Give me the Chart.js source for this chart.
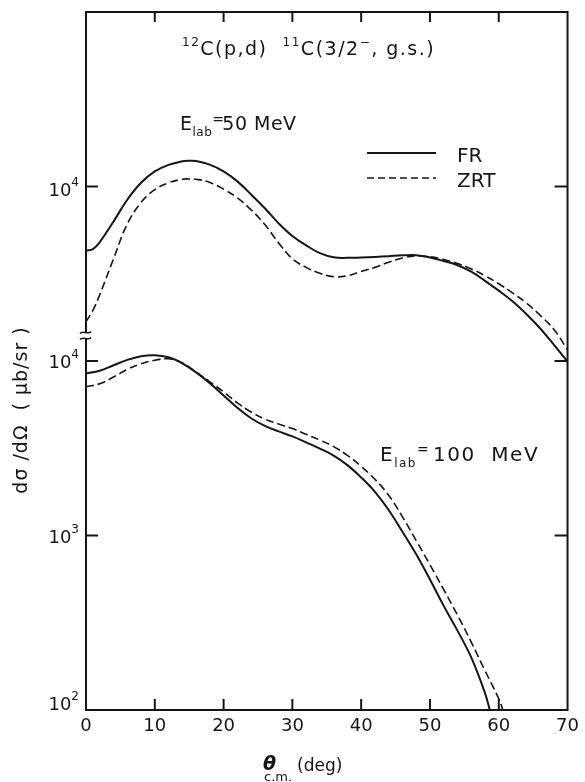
<!DOCTYPE html>
<html>
<head>
<meta charset="utf-8">
<script src="https://cdn.jsdelivr.net/npm/chart.js@4.4.0/dist/chart.umd.min.js"></script>
<style>
  body { margin: 0; background: #fff; }
  canvas { display: block; }
</style>
</head>
<body>
<canvas id="xsec" width="585" height="782"></canvas>
<script>
// 12C(p,d)11C angular distributions, mub/sr vs theta_cm (deg)
// E_lab = 50 MeV (plotted against the upper, shifted scale)
const angles50 = [0, 1, 2, 4, 6, 8, 10, 12, 14, 15, 16, 18, 20, 22, 24, 26, 28, 30, 32, 34, 36, 38, 40, 42, 44, 46, 48, 50, 52, 54, 56, 58, 60, 62, 64, 66, 68, 70];
const fr50 = [4290, 4380, 4800, 6300, 8400, 10500, 12200, 13300, 13950, 14050, 14000, 13350, 12200, 10700, 9000, 7500, 6150, 5200, 4600, 4150, 3930, 3900, 3920, 3950, 3990, 4030, 4040, 3920, 3740, 3540, 3250, 2880, 2530, 2200, 1860, 1540, 1240, 990];
const zrt50 = [1680, 1950, 2400, 3850, 6100, 8100, 9600, 10500, 11000, 11050, 11000, 10550, 9650, 8600, 7350, 6050, 4750, 3850, 3440, 3180, 3040, 3080, 3260, 3440, 3680, 3890, 4000, 3960, 3820, 3620, 3370, 3080, 2770, 2460, 2150, 1830, 1520, 1160];

// E_lab = 100 MeV
const anglesFR100 = [0, 2, 4, 6, 8, 10, 12, 14, 16, 18, 20, 22, 24, 26, 28, 30, 32, 34, 36, 38, 40, 42, 44, 46, 48, 50, 52, 54, 56, 58, 58.7];
const fr100 = [8490, 8800, 9450, 10150, 10650, 10800, 10500, 9700, 8600, 7450, 6350, 5400, 4700, 4250, 3950, 3700, 3420, 3150, 2870, 2530, 2150, 1780, 1400, 1050, 780, 560, 395, 285, 200, 125, 100];
const anglesZRT100 = [0, 2, 4, 6, 8, 10, 12, 14, 16, 18, 20, 22, 24, 26, 28, 30, 32, 34, 36, 38, 40, 42, 44, 46, 48, 50, 52, 54, 56, 58, 60, 60.6];
const zrt100 = [7130, 7400, 8100, 8950, 9650, 10100, 10300, 9750, 8650, 7600, 6650, 5750, 5100, 4650, 4350, 4100, 3800, 3520, 3230, 2880, 2490, 2100, 1700, 1280, 935, 680, 490, 350, 245, 168, 116, 100];

const xTicks = [0, 10, 20, 30, 40, 50, 60, 70];
const yTicksLow = [100, 1000, 10000];
const yTicksTop = [10000];

const FONT = '"DejaVu Sans", sans-serif';
const INK = '#151515';

function pts(xs, ys) {
  return xs.map((x, i) => ({ x: x, y: ys[i] }));
}

// text runs with super/subscripts, left aligned at x on baseline y
function rich(ctx, x, y, parts, size) {
  parts.forEach(([txt, kind]) => {
    let s = size, dy = 0;
    if (kind === 'sup') { s = Math.round(size * 0.62); dy = -size * 0.45; }
    if (kind === 'sub') { s = Math.round(size * 0.62); dy = size * 0.32; }
    ctx.font = s + 'px ' + FONT;
    ctx.fillText(txt, x, y + dy);
    x += ctx.measureText(txt).width;
  });
  return x;
}

function seg(ctx, x1, y1, x2, y2) {
  ctx.beginPath();
  ctx.moveTo(x1, y1);
  ctx.lineTo(x2, y2);
  ctx.stroke();
}

const frame = {
  id: 'frame',
  afterDraw(chart) {
    const { ctx, chartArea: a, scales } = chart;
    const sx = scales.x, lo = scales.y, hi = scales.yTop;
    ctx.save();
    ctx.strokeStyle = INK;
    ctx.fillStyle = INK;
    ctx.lineWidth = 2;
    ctx.textBaseline = 'alphabetic';

    // frame, left side broken between the two scales
    const brk = 335.5;
    ctx.beginPath();
    ctx.moveTo(a.left, brk - 3);
    ctx.lineTo(a.left, a.top);
    ctx.lineTo(a.right, a.top);
    ctx.lineTo(a.right, a.bottom);
    ctx.lineTo(a.left, a.bottom);
    ctx.lineTo(a.left, brk + 3);
    ctx.stroke();
    ctx.lineWidth = 1.5;
    [brk - 3, brk + 3].forEach(y => {
      ctx.beginPath();
      ctx.moveTo(a.left - 6, y + 1);
      ctx.bezierCurveTo(a.left - 3, y - 3, a.left + 2, y + 3, a.left + 5, y - 1);
      ctx.stroke();
    });

    // inward ticks
    ctx.lineWidth = 2;
    xTicks.slice(1, -1).forEach(v => {
      const px = sx.getPixelForValue(v);
      seg(ctx, px, a.top, px, a.top + 10);
      seg(ctx, px, a.bottom, px, a.bottom - 11);
    });
    const yPix = yTicksTop.map(v => hi.getPixelForValue(v))
      .concat(yTicksLow.filter(v => v > lo.min).map(v => lo.getPixelForValue(v)));
    yPix.forEach(py => {
      seg(ctx, a.left, py, a.left + 12, py);
      seg(ctx, a.right, py, a.right - 13, py);
    });

    // y tick labels 10^n
    const label = (v, base) => {
      const e = String(Math.round(Math.log10(v)));
      ctx.font = '18px ' + FONT;
      const w10 = ctx.measureText('10').width;
      ctx.font = '12px ' + FONT;
      const we = ctx.measureText(e).width;
      const x0 = 79 - w10 - we;
      ctx.font = '18px ' + FONT;
      ctx.fillText('10', x0, base);
      ctx.font = '12px ' + FONT;
      ctx.fillText(e, x0 + w10, base - 10);
    };
    yTicksTop.forEach(v => label(v, hi.getPixelForValue(v) + 9));
    yTicksLow.forEach(v => {
      const py = lo.getPixelForValue(v);
      label(v, v === lo.min ? py : py + 7);
    });

    // reaction heading
    ctx.letterSpacing = '1.5px';
    rich(ctx, 182, 55, [['12', 'sup'], ['C(p,d)  ', ''], ['11', 'sup'],
      ['C(3/2', ''], ['\u2212', 'sup'], [', g.s.)', '']], 19);

    // beam energies
    ctx.letterSpacing = '0.5px';
    let ex = rich(ctx, 180, 130, [['E', ''], ['lab', 'sub']], 19);
    ctx.font = '14px ' + FONT;
    ctx.fillText('=', ex, 124);
    ctx.font = '19px ' + FONT;
    ctx.fillText('50 MeV', ex + 10, 130);

    ctx.letterSpacing = '1.5px';
    ex = rich(ctx, 380, 461, [['E', ''], ['lab', 'sub']], 20);
    ctx.font = '14px ' + FONT;
    ctx.fillText('=', ex, 454);
    ctx.font = '20px ' + FONT;
    ctx.fillText('100  MeV', ex + 16, 461);
    ctx.letterSpacing = '0px';

    // line key
    ctx.lineWidth = 2;
    seg(ctx, 367, 153, 436, 153);
    ctx.lineWidth = 1.6;
    ctx.setLineDash([7, 4]);
    seg(ctx, 367, 178, 436, 178);
    ctx.setLineDash([]);
    ctx.font = '20px ' + FONT;
    ctx.fillText('FR', 457, 162);
    ctx.fillText('ZRT', 457, 187);

    // axis titles
    ctx.font = 'italic bold 19px ' + FONT;
    ctx.fillText('\u03b8', 263, 770);
    ctx.font = '13px ' + FONT;
    ctx.fillText('c.m.', 264, 781);
    ctx.font = '17px ' + FONT;
    ctx.fillText('(deg)', 297, 771);

    ctx.save();
    ctx.translate(22, 410);
    ctx.rotate(-Math.PI / 2);
    ctx.textAlign = 'center';
    ctx.textBaseline = 'middle';
    ctx.letterSpacing = '1px';
    ctx.font = '19px ' + FONT;
    ctx.fillText('d\u03c3 /d\u03a9  ( \u03bcb/sr )', 0, 0);
    ctx.restore();

    ctx.restore();
  }
};

const solid = { borderColor: INK, borderWidth: 2, pointRadius: 0, tension: 0.4, fill: false };
const dashed = { borderColor: INK, borderWidth: 1.6, borderDash: [8, 4], pointRadius: 0, tension: 0.4, fill: false };

new Chart(document.getElementById('xsec'), {
  type: 'line',
  data: {
    datasets: [
      Object.assign({ label: 'FR 50 MeV', data: pts(angles50, fr50), yAxisID: 'yTop' }, solid),
      Object.assign({ label: 'ZRT 50 MeV', data: pts(angles50, zrt50), yAxisID: 'yTop' }, dashed),
      Object.assign({ label: 'FR 100 MeV', data: pts(anglesFR100, fr100), yAxisID: 'y' }, solid),
      Object.assign({ label: 'ZRT 100 MeV', data: pts(anglesZRT100, zrt100), yAxisID: 'y' }, dashed)
    ]
  },
  options: {
    responsive: false,
    animation: false,
    devicePixelRatio: 1,
    layout: { padding: { top: 12, right: 9, left: 0, bottom: 0 } },
    plugins: { legend: { display: false }, tooltip: { enabled: false } },
    scales: {
      x: {
        type: 'linear',
        position: 'bottom',
        min: 0,
        max: 70,
        grid: { display: false, drawTicks: false },
        border: { display: false },
        afterBuildTicks: s => { s.ticks = xTicks.map(v => ({ value: v })); },
        ticks: { color: INK, font: { family: FONT, size: 18 }, padding: 6, maxRotation: 0 },
        afterFit: s => { s.height = 72; }
      },
      y: {
        type: 'logarithmic',
        position: 'left',
        min: 100,
        max: 1e6,
        grid: { display: false, drawTicks: false },
        border: { display: false },
        ticks: { display: false },
        afterFit: s => { s.width = 86; }
      },
      yTop: {
        type: 'logarithmic',
        position: 'left',
        min: 10,
        max: 1e5,
        display: false
      }
    }
  },
  plugins: [frame]
});
</script>
</body>
</html>
